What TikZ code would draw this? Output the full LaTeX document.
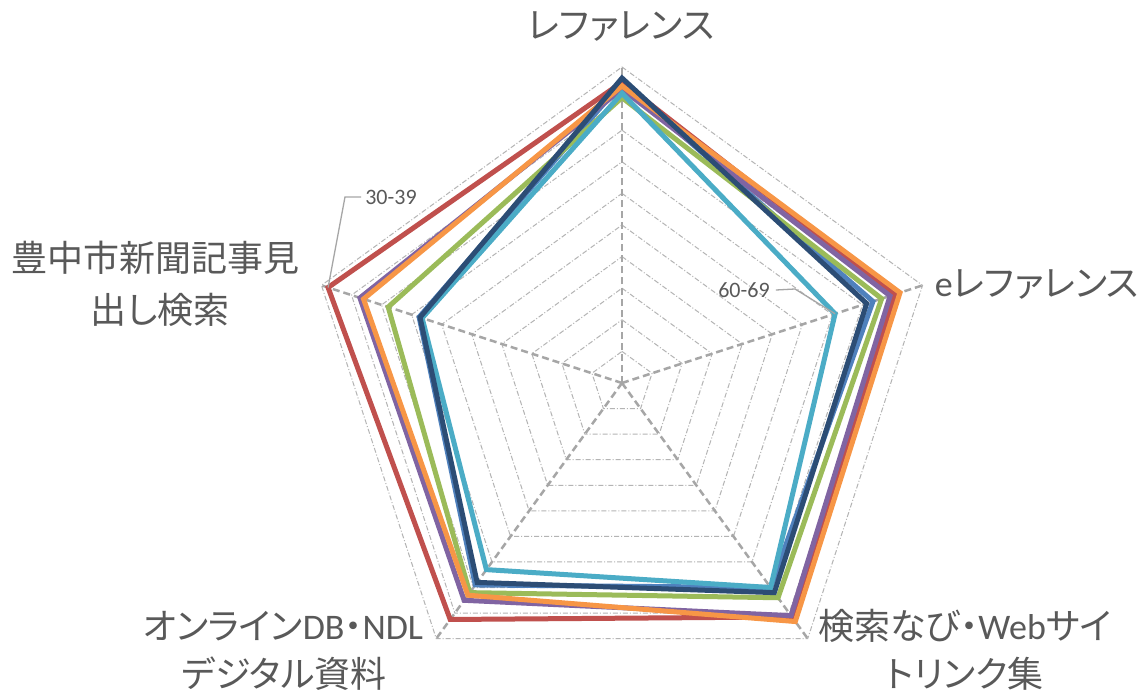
\documentclass[tikz,border=0pt]{standalone}
\usepackage{fontspec}
\newfontfamily\jpfont[RawFeature=+palt]{Noto Sans CJK JP}
\newfontfamily\latfont{Carlito}
\definecolor{sBlue}{HTML}{4F81BD}
\definecolor{sRed}{HTML}{C0504D}
\definecolor{sGreen}{HTML}{9BBB59}
\definecolor{sPurple}{HTML}{8064A2}
\definecolor{sAqua}{HTML}{4BACC6}
\definecolor{sOrange}{HTML}{F79646}
\definecolor{sNavy}{HTML}{2C4D75}
\definecolor{txtgray}{HTML}{595959}
\definecolor{axgray}{HTML}{A6A6A6}
\definecolor{ringgray}{HTML}{B4B4B4}
\newcommand\RR{316}
\newcommand\radarseries[6]{\draw[series,#1] (90:#2*\RR) -- (18:#3*\RR) -- (-54:#4*\RR) -- (-126:#5*\RR) -- (162:#6*\RR) -- cycle;}
\tikzset{
  ring/.style={draw=ringgray, line width=1pt, dash pattern=on 5pt off 2pt on 1pt off 2pt},
  axisline/.style={draw=axgray, line width=2.5pt, dash pattern=on 7pt off 4pt},
  series/.style={line width=5pt, line join=miter, miter limit=10},
  catlabel/.style={text=txtgray, font=\jpfont\fontsize{36}{40}\selectfont, inner sep=0pt, anchor=center},
  vallabel/.style={text=txtgray, font=\latfont\fontsize{22}{26}\selectfont, inner sep=0pt, anchor=center},
  leader/.style={draw=axgray, line width=1.3pt}
}
\begin{document}
\begin{tikzpicture}[x=1pt,y=1pt]
\useasboundingbox[fill=white] (0,0) rectangle (1146,-693);
\begin{scope}[shift={(622,-383)}]
  \coordinate (ctr) at (0,0);
  \foreach \k in {1,...,10}{
    \draw[ring] (90:\k*31.6) -- (18:\k*31.6) -- (-54:\k*31.6) -- (-126:\k*31.6) -- (162:\k*31.6) -- cycle;
  }
  \foreach \a in {90,18,-54,-126,162}{
    \draw[axisline] (ctr) -- (\a:\RR);
  }
  \radarseries{sBlue}{0.95}{0.835}{0.80}{0.79}{0.675}
  \radarseries{sRed}{0.952}{0.908}{0.915}{0.925}{0.978}
  \radarseries{sGreen}{0.903}{0.864}{0.84}{0.82}{0.778}
  \radarseries{sPurple}{0.93}{0.892}{0.91}{0.85}{0.872}
  \radarseries{sAqua}{0.917}{0.709}{0.80}{0.73}{0.665}
  \radarseries{sOrange}{0.94}{0.925}{0.933}{0.83}{0.86}
  \radarseries{sNavy}{0.965}{0.814}{0.82}{0.78}{0.672}
  \coordinate (redL) at (162:0.978*\RR);
  \coordinate (aquaR) at (18:0.709*\RR);
\end{scope}
% category labels
\node[catlabel] (lab1) at (621,-27) {レファレンス};
\node[catlabel] (lab2) at (1037,-285) {{\latfont e}レファレンス};
\node[catlabel] (lab5a) at (156,-258) {豊中市新聞記事見};
\node[catlabel] (lab5b) at (160,-310) {出し検索};
\node[catlabel] (lab3a) at (965,-626) {検索なび・{\latfont Web}サイ};
\node[catlabel] (lab3b) at (965,-674) {トリンク集};
\node[catlabel] (lab4a) at (283,-626) {オンライン{\latfont DB}・{\latfont NDL}};
\node[catlabel] (lab4b) at (284,-674) {デジタル資料};
% value labels
\node[vallabel] (v30) at (391,-197) {30-39};
\node[vallabel] (v60) at (744,-290) {60-69};
\coordinate (v30k) at (345,-197);
\draw[leader] (v30.west) ++(-4,0) -- (v30k) -- (redL);
\coordinate (v60k) at (795,-289);
\draw[leader] (v60.east) ++(6,0) -- (v60k) -- (aquaR);
\end{tikzpicture}
\end{document}
